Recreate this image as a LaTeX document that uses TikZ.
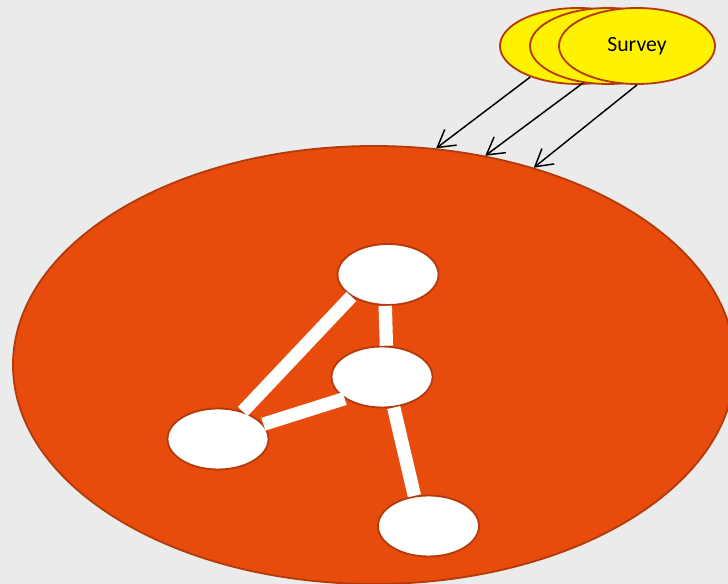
\documentclass[tikz,border=0pt]{standalone}
\usepackage{fontspec}
\setmainfont{Carlito}
\definecolor{popfill}{HTML}{E84C0C}
\definecolor{poprim}{HTML}{B33A0B}
\definecolor{pagebg}{HTML}{EBEBEB}
\usetikzlibrary{shapes.geometric, arrows.meta, positioning}

\begin{document}
\begin{tikzpicture}[
      popbox/.style={ellipse, draw=poprim, fill=popfill, line width=1.3pt,
                    minimum width=18.05cm, minimum height=10.95cm, inner sep=0pt},
      surveybox/.style={ellipse, draw=poprim, fill=yellow, line width=1.3pt,
                    minimum width=3.9cm, minimum height=1.9cm, inner sep=0pt,
                    font=\fontsize{15.5}{18}\selectfont},
      unitbox/.style={ellipse, draw=poprim, fill=white, line width=1.3pt,
                    minimum width=2.525cm, minimum height=1.525cm, inner sep=0pt},
      link/.style={white, line width=9.5pt},
      arr/.style={-{Straight Barb[length=12pt, width=14pt]}, line width=1.05pt, black}
    ]
      \fill[pagebg] (0,0) rectangle (18.2,14.6);
      \useasboundingbox (0,0) rectangle (18.2,14.6);

      \node[popbox] (pop) at (9.35,5.475) {};

      \node[surveybox] (s1) at (14.45,13.45) {};
      \node[surveybox] (s2) at (15.2,13.45) {};
      \node[surveybox] (s3) at (15.925,13.45) {Survey};

      \node[unitbox] (top) at (9.7,7.7375) {};
      \node[unitbox] (mid) at (9.55,5.175) {};
      \node[unitbox] (left) at (5.45,3.625) {};
      \node[unitbox] (bot) at (10.7125,1.45) {};

      \draw[link] (top.211) -- (left.48);
      \draw[link] (top.265) -- (mid.82);
      \draw[link] (mid.210) -- (left.18);
      \draw[link] (mid.291) -- (bot.115);

      \draw[arr] (s1.213) -- (pop.74);
      \draw[arr] (s2.236) -- (pop.62);
      \draw[arr] (s3.south) -- (pop.51);
    \end{tikzpicture}
\end{document}
